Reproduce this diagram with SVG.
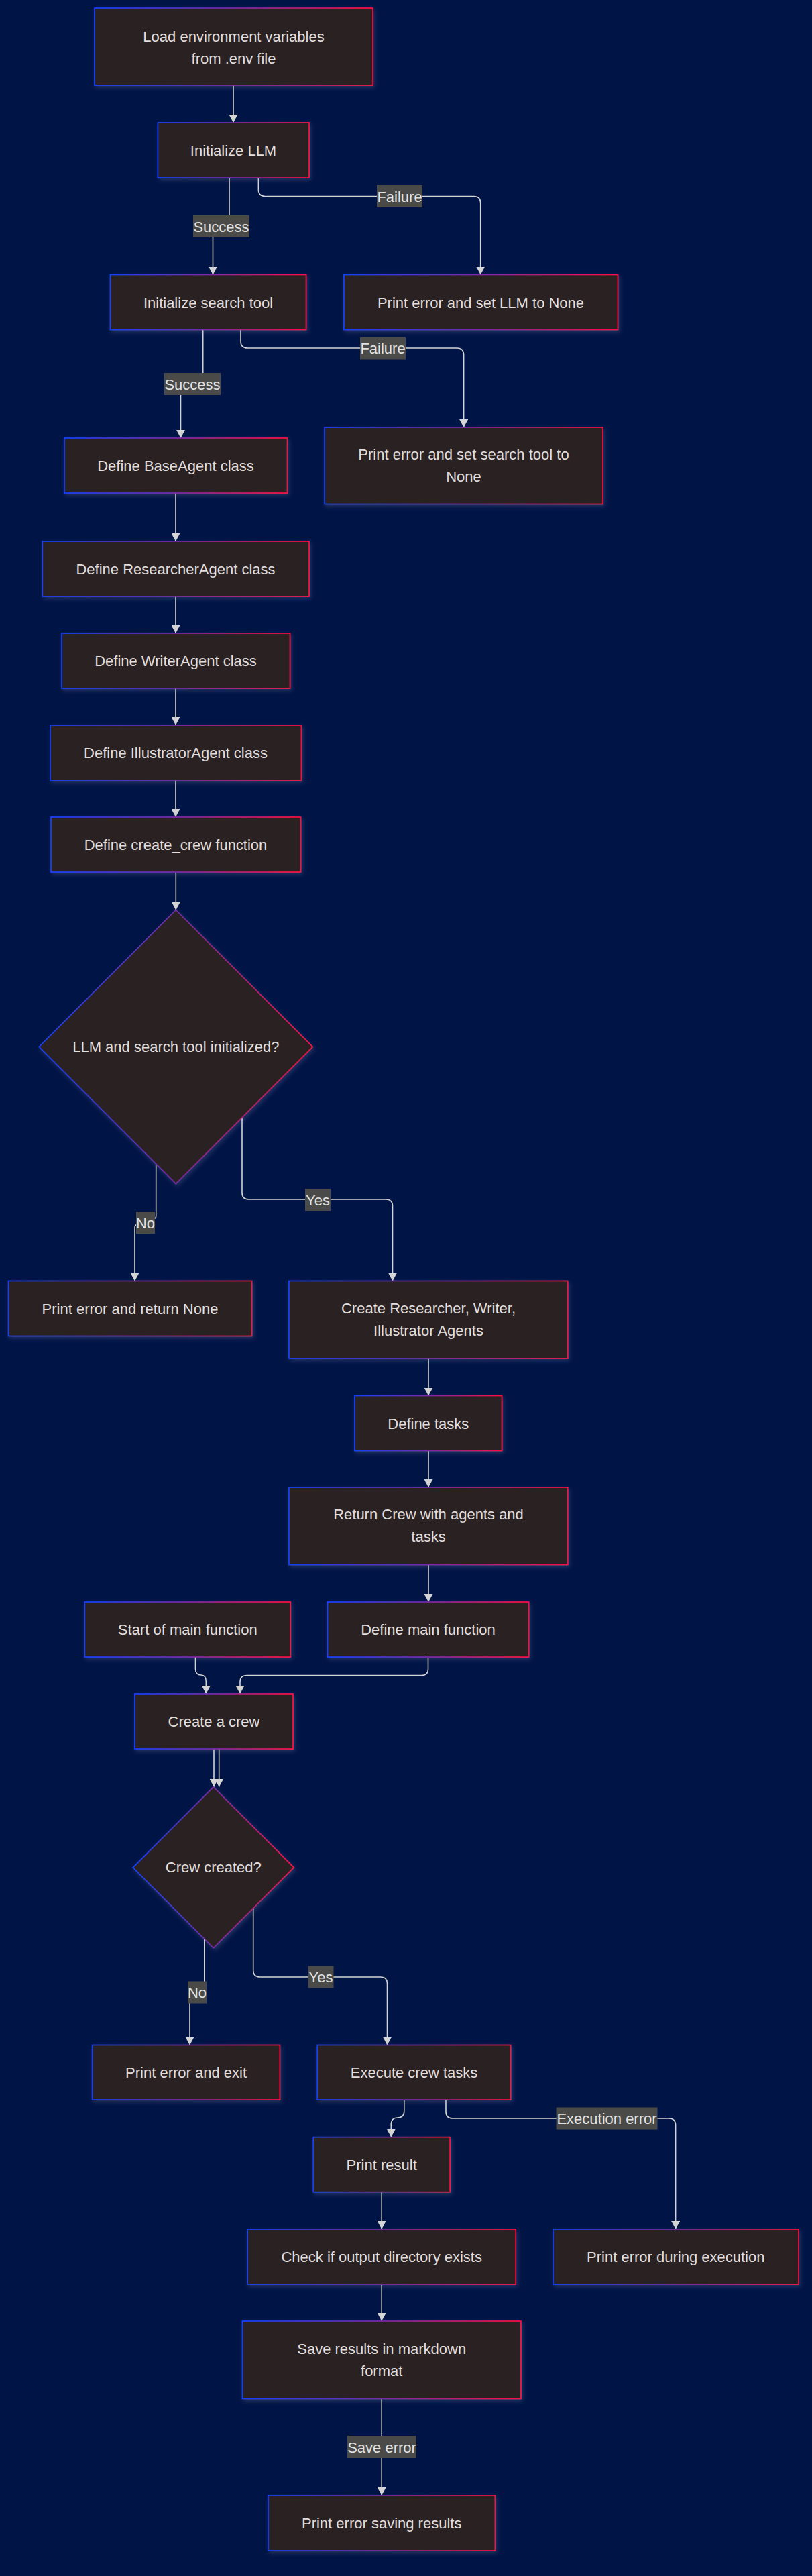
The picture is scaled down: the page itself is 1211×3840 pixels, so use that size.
<svg xmlns="http://www.w3.org/2000/svg" width="1211" height="3840" viewBox="0 0 1211 3840">
<defs>
<linearGradient id="g" x1="0" y1="0" x2="1" y2="0">
<stop offset="0" stop-color="#1440ff"/>
<stop offset="0.5" stop-color="#7a2aa8"/>
<stop offset="1" stop-color="#ff0c44"/>
</linearGradient>
<filter id="sh" x="-10%" y="-10%" width="125%" height="130%">
<feDropShadow dx="2" dy="3" stdDeviation="3" flood-color="#9aa0c0" flood-opacity="0.22"/>
</filter>
<marker id="ah" markerUnits="userSpaceOnUse" markerWidth="13" markerHeight="13" refX="12" refY="6.5" orient="auto">
<path d="M0,0 L12,6.5 L0,13 z" fill="#d4d4d4"/>
</marker>
</defs>
<style>
.n{fill:#2b2120;stroke:url(#g);stroke-width:1.7;filter:url(#sh)}
.t{font-family:"Liberation Sans",Arial,sans-serif;font-size:22px;fill:#e2dede;text-anchor:middle}
.e{fill:none;stroke:#d4d4d4;stroke-width:1.6;marker-end:url(#ah)}
.lb{fill:#4a4b49}
.lt{font-family:"Liberation Sans",Arial,sans-serif;font-size:22px;fill:#e2e2e2;text-anchor:middle}
</style>
<rect width="1211" height="3840" fill="#011446"/>

<g id="edges">
<path class="e" d="M348,127 V183"/>
<path class="e" d="M342,265 V330 C342,340 317.5,334 317.5,344 V409.5"/>
<path class="e" d="M385.4,265 V282.5 Q385.4,292.5 395.4,292.5 H706.7 Q716.7,292.5 716.7,302.5 V409.5"/>
<path class="e" d="M302.7,491.5 V565 C302.7,575 269.5,570 269.5,580 V653"/>
<path class="e" d="M359,491.5 V509 Q359,519 369,519 H681.6 Q691.6,519 691.6,529 V637"/>
<path class="e" d="M262,735 V807"/>
<path class="e" d="M262,889 V944"/>
<path class="e" d="M262,1026 V1081"/>
<path class="e" d="M262,1163 V1218"/>
<path class="e" d="M262.3,1300 V1356.5"/>
<path class="e" d="M232.7,1735 V1813 C232.7,1822 201,1818 201,1830 V1909.5"/>
<path class="e" d="M361,1667 V1778 Q361,1788 371,1788 H575.5 Q585.5,1788 585.5,1798 V1909.5"/>
<path class="e" d="M639,2025 V2080.5"/>
<path class="e" d="M639,2162 V2217"/>
<path class="e" d="M639,2332.5 V2388"/>
<path class="e" d="M291.5,2470 V2488 Q291.5,2497 300,2497 Q307.3,2497 307.3,2507 V2525"/>
<path class="e" d="M638.5,2470 V2488 Q638.5,2497.5 628.5,2497.5 H368 Q358,2497.5 358,2507.5 V2525"/>
<path class="e" d="M319,2607 V2663.8"/>
<path class="e" d="M326.7,2607 V2663.8"/>
<path class="e" d="M304.8,2890.5 V2960 C304.8,2970 283,2966 283,2978 V3048.5"/>
<path class="e" d="M377.7,2844.6 V2937 Q377.7,2947 387.7,2947 H567.5 Q577.5,2947 577.5,2957 V3048.5"/>
<path class="e" d="M602.8,3130 V3147 Q602.8,3157 593,3157 Q583.3,3157 583.3,3167 V3185.7"/>
<path class="e" d="M665,3130 V3148 Q665,3158 675,3158 H997.6 Q1007.6,3158 1007.6,3168 V3323"/>
<path class="e" d="M569.2,3267.5 V3323"/>
<path class="e" d="M569.2,3405 V3460"/>
<path class="e" d="M569.2,3575.5 V3720"/>
<g id="edge-labels">
<rect class="lb" x="288" y="321" width="84" height="33"/><text class="lt" x="330" y="345.5">Success</text>
<rect class="lb" x="562" y="276" width="68" height="33"/><text class="lt" x="596" y="300.5">Failure</text>
<rect class="lb" x="245" y="556" width="84" height="33"/><text class="lt" x="287" y="580.5">Success</text>
<rect class="lb" x="537" y="502.5" width="68" height="33"/><text class="lt" x="571" y="527">Failure</text>
<rect class="lb" x="203" y="1806" width="28" height="33"/><text class="lt" x="217" y="1830.5">No</text>
<rect class="lb" x="455" y="1772" width="38" height="33"/><text class="lt" x="474" y="1796.5">Yes</text>
<rect class="lb" x="280" y="2953.5" width="28" height="33"/><text class="lt" x="294" y="2978">No</text>
<rect class="lb" x="459.5" y="2930.5" width="38" height="33"/><text class="lt" x="478.5" y="2955">Yes</text>
<rect class="lb" x="829.5" y="3141.5" width="151" height="33"/><text class="lt" x="905" y="3166">Execution error</text>
<rect class="lb" x="518" y="3631" width="103" height="33"/><text class="lt" x="569.5" y="3655.5">Save error</text>
</g>
</g>

<g id="load"><rect class="n" x="141" y="12" width="415" height="115"/><text class="t" x="348.5" y="62">Load environment variables</text><text class="t" x="348.5" y="95">from .env file</text></g>
<g id="llm"><rect class="n" x="235.5" y="183" width="225.5" height="82"/><text class="t" x="348" y="232">Initialize LLM</text></g>
<g id="search"><rect class="n" x="164.5" y="409.5" width="292" height="82"/><text class="t" x="310.5" y="458.5">Initialize search tool</text></g>
<g id="errllm"><rect class="n" x="513" y="409.5" width="408.5" height="82"/><text class="t" x="717" y="458.5">Print error and set LLM to None</text></g>
<g id="base"><rect class="n" x="96" y="653" width="332.5" height="82"/><text class="t" x="262" y="702">Define BaseAgent class</text></g>
<g id="errsearch"><rect class="n" x="484" y="637" width="415" height="114.5"/><text class="t" x="691.5" y="685">Print error and set search tool to</text><text class="t" x="691.5" y="718">None</text></g>
<g id="researcher"><rect class="n" x="63.3" y="807" width="397.7" height="82"/><text class="t" x="262" y="856">Define ResearcherAgent class</text></g>
<g id="writer"><rect class="n" x="92" y="944" width="340.5" height="82"/><text class="t" x="262" y="993">Define WriterAgent class</text></g>
<g id="illustrator"><rect class="n" x="75" y="1081" width="374.5" height="82"/><text class="t" x="262" y="1130">Define IllustratorAgent class</text></g>
<g id="createcrewfn"><rect class="n" x="76" y="1218" width="372.5" height="82"/><text class="t" x="262" y="1267">Define create_crew function</text></g>
<g id="check1"><polygon class="n" points="262.3,1356.5 466.3,1560.5 262.3,1764.5 58.3,1560.5"/><text class="t" x="262.3" y="1568">LLM and search tool initialized?</text></g>
<g id="errnone"><rect class="n" x="12.6" y="1909.5" width="363" height="82"/><text class="t" x="194" y="1958.5">Print error and return None</text></g>
<g id="createagents"><rect class="n" x="431" y="1909.5" width="415.7" height="115.5"/><text class="t" x="639" y="1958">Create Researcher, Writer,</text><text class="t" x="639" y="1991">Illustrator Agents</text></g>
<g id="tasks"><rect class="n" x="529" y="2080.5" width="219.5" height="82"/><text class="t" x="638.8" y="2129.5">Define tasks</text></g>
<g id="returncrew"><rect class="n" x="431" y="2217" width="415.7" height="115.5"/><text class="t" x="639" y="2265">Return Crew with agents and</text><text class="t" x="639" y="2298">tasks</text></g>
<g id="definemain"><rect class="n" x="488.5" y="2388" width="300" height="82"/><text class="t" x="638.5" y="2437">Define main function</text></g>
<g id="startmain"><rect class="n" x="126.3" y="2388" width="307" height="82"/><text class="t" x="279.8" y="2437">Start of main function</text></g>
<g id="createacrew"><rect class="n" x="201" y="2525" width="236" height="82"/><text class="t" x="319" y="2574">Create a crew</text></g>
<g id="check2"><polygon class="n" points="318.3,2663.8 438.3,2783.8 318.3,2903.8 198.3,2783.8"/><text class="t" x="318.3" y="2791">Crew created?</text></g>
<g id="errexit"><rect class="n" x="137.7" y="3048.5" width="279.7" height="81.5"/><text class="t" x="277.6" y="3097">Print error and exit</text></g>
<g id="execute"><rect class="n" x="473.3" y="3048.5" width="288.3" height="81.5"/><text class="t" x="617.5" y="3097">Execute crew tasks</text></g>
<g id="printresult"><rect class="n" x="467.3" y="3185.7" width="203.8" height="82"/><text class="t" x="569.2" y="3234.5">Print result</text></g>
<g id="checkdir"><rect class="n" x="369.2" y="3323" width="400" height="82"/><text class="t" x="569.2" y="3372">Check if output directory exists</text></g>
<g id="errexec"><rect class="n" x="825" y="3323" width="366" height="82"/><text class="t" x="1007.8" y="3372">Print error during execution</text></g>
<g id="save"><rect class="n" x="361.6" y="3460" width="415.2" height="115.5"/><text class="t" x="569.2" y="3508.5">Save results in markdown</text><text class="t" x="569.2" y="3541.5">format</text></g>
<g id="errsave"><rect class="n" x="400" y="3720" width="338.3" height="82"/><text class="t" x="569.2" y="3769">Print error saving results</text></g>
</svg>
